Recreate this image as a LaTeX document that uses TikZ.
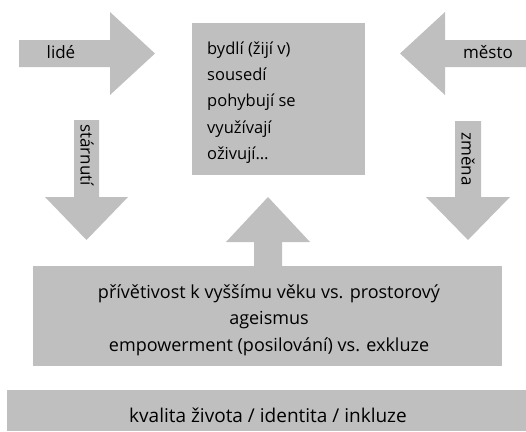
\documentclass[tikz,border=0pt]{standalone}
\usepackage{fontspec}
\setmainfont{Open Sans}
\definecolor{boxgray}{RGB}{191,191,191}
\tikzset{
  shape fill/.style={fill=boxgray, draw=none},
  lbl/.style={inner sep=0pt, font=\fontsize{17}{24}\selectfont, text=black},
}
\begin{document}
\begin{tikzpicture}[x=1pt,y=-1pt]
\useasboundingbox (0,0) rectangle (526,431);
% left arrow (lidé)
\path[shape fill] (19,40) -- (110,40) -- (110,12) -- (155,53.5) -- (110,95) -- (110,67) -- (19,67) -- cycle;
\node[lbl] (lide) at (61,52) {lidé};
% right arrow (město)
\path[shape fill] (526,40) -- (445,40) -- (445,12) -- (400,53.5) -- (445,95) -- (445,67) -- (526,67) -- cycle;
\node[lbl] (mesto) at (488,52) {město};
% centre box
\path[shape fill] (192,23) rectangle (365,175);
\node[lbl, anchor=west, align=left, font=\fontsize{16.5}{26.2}\selectfont] (akce) at (207,102.5)
  {bydlí (žijí v)\\sousedí\\pohybují se\\využívají\\oživují\ldots};
% down arrow (stárnutí)
\path[shape fill] (74,120) -- (99,120) -- (99,197) -- (128,197) -- (86.5,240) -- (45,197) -- (74,197) -- cycle;
\node[lbl, rotate=-90] (starnuti) at (87,155) {stárnutí};
% down arrow (změna)
\path[shape fill] (455,121) -- (481,121) -- (481,197) -- (510,197) -- (468,240) -- (426,197) -- (455,197) -- cycle;
\node[lbl, rotate=-90] (zmena) at (468,159) {změna};
% up arrow
\path[shape fill] (254,266) -- (254,242) -- (226,242) -- (268,197) -- (310,242) -- (282,242) -- (282,266) -- cycle;
% big box
\path[shape fill] (33,266) rectangle (502,366);
\node[lbl, align=center, font=\fontsize{18}{26.5}\selectfont] (pristup) at (269,320)
  {přívětivost k vyššímu věku vs. prostorový\\ageismus\\empowerment (posilování) vs. exkluze};
% bottom box
\path[shape fill] (7,390) rectangle (526,431);
\node[lbl, anchor=base, font=\fontsize{19}{24}\selectfont] (kvalita) at (268,422) {kvalita života / identita / inkluze};
\end{tikzpicture}
\end{document}
